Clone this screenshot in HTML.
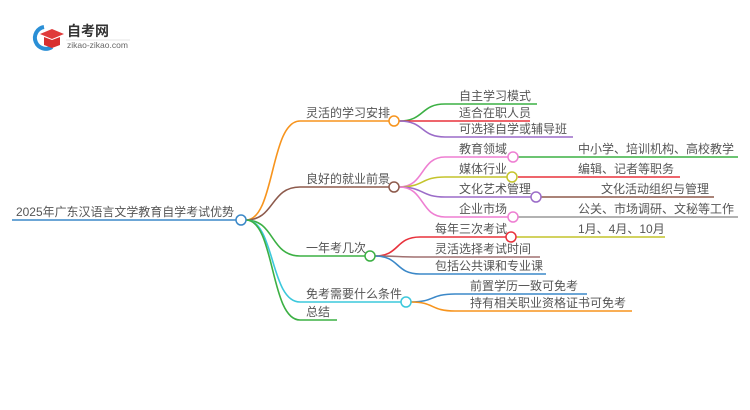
<!DOCTYPE html>
<html><head><meta charset="utf-8"><style>
html,body{margin:0;padding:0;background:#fff;width:750px;height:410px;overflow:hidden}
svg text{font-family:"Liberation Sans","Noto Sans CJK SC",sans-serif;font-size:12px;fill:#555}
</style></head><body>
<svg width="750" height="410" viewBox="0 0 750 410" xmlns="http://www.w3.org/2000/svg">
<!-- logo -->
<path d="M44 27 A11 11 0 1 0 52 47" fill="none" stroke="#2a8fd6" stroke-width="4"/>
<polygon points="40,34 52,29 64,34 52,39" fill="#e03a3a"/>
<path d="M44 37 L44 45 L52 48 L60 45 L60 37 L52 40 Z" fill="#d83030"/>
<text x="67" y="36" style="font-size:14px;font-weight:bold;fill:#333">自考网</text>
<line x1="66" y1="40" x2="130" y2="40" stroke="#ddd" stroke-width="0.7"/>
<text x="67" y="48" style="font-size:8.5px;fill:#666">zikao-zikao.com</text>

<g fill="none" stroke-width="1.6">
<line x1="12" y1="220" x2="236" y2="220" stroke="#3b88c8"/>
<path d="M246 220 C275 220 270 121 300 121 L389 121" stroke="#f7941d"/>
<path d="M246 220 C275 220 270 187 300 187 L389 187" stroke="#8d5a4c"/>
<path d="M246 220 C275 220 270 256 300 256 L365 256" stroke="#3cb044"/>
<path d="M246 220 C275 220 270 302 300 302 L401 302" stroke="#3cc8dc"/>
<path d="M246 220 C275 220 270 320 300 320 L337 320" stroke="#3cb044"/>
<path d="M399 121 C425 121 420 104 445 104 L537 104" stroke="#3cb044"/>
<path d="M399 121 L530 121" stroke="#e8323c"/>
<path d="M399 121 C425 121 420 137 445 137 L573 137" stroke="#9b6cc8"/>
<path d="M399 187 C425 187 420 157 445 157 L508 157" stroke="#ee7fd2"/>
<path d="M399 187 C425 187 420 177 445 177 L507 177" stroke="#c4c42c"/>
<path d="M399 187 C425 187 420 197 445 197 L531 197" stroke="#9b6cc8"/>
<path d="M399 187 C425 187 420 217 445 217 L508 217" stroke="#ee7fd2"/>
<line x1="518" y1="157" x2="738" y2="157" stroke="#3cb044"/>
<line x1="518" y1="177" x2="680" y2="177" stroke="#e8323c"/>
<line x1="541" y1="197" x2="714" y2="197" stroke="#8d5a4c"/>
<line x1="518" y1="217" x2="738" y2="217" stroke="#999"/>
<path d="M375 256 C400 256 395 237 420 237 L506 237" stroke="#e8323c"/>
<path d="M375 256 C400 256 395 257 420 257 L540 257" stroke="#a07070"/>
<path d="M375 256 C400 256 395 274 420 274 L546 274" stroke="#3b88c8"/>
<line x1="516" y1="237" x2="665" y2="237" stroke="#c4c42c"/>
<path d="M411 302 C435 302 430 294 455 294 L587 294" stroke="#3b88c8"/>
<path d="M411 302 C435 302 430 311 455 311 L632 311" stroke="#f7941d"/>
</g>
<g fill="#fff" stroke-width="1.5">
<circle cx="241" cy="220" r="5" stroke="#3b88c8"/>
<circle cx="394" cy="121" r="5" stroke="#f7941d"/>
<circle cx="394" cy="187" r="5" stroke="#8d5a4c"/>
<circle cx="370" cy="256" r="5" stroke="#3cb044"/>
<circle cx="406" cy="302" r="5" stroke="#3cc8dc"/>
<circle cx="513" cy="157" r="5" stroke="#ee7fd2"/>
<circle cx="512" cy="177" r="5" stroke="#c4c42c"/>
<circle cx="536" cy="197" r="5" stroke="#9b6cc8"/>
<circle cx="513" cy="217" r="5" stroke="#ee7fd2"/>
<circle cx="511" cy="237" r="5" stroke="#e8323c"/>
</g>
<text x="16" y="216" textLength="218" lengthAdjust="spacingAndGlyphs">2025年广东汉语言文学教育自学考试优势</text>
<text x="306" y="117">灵活的学习安排</text>
<text x="306" y="183">良好的就业前景</text>
<text x="306" y="252">一年考几次</text>
<text x="306" y="298">免考需要什么条件</text>
<text x="306" y="316">总结</text>
<text x="459" y="100">自主学习模式</text>
<text x="459" y="117">适合在职人员</text>
<text x="459" y="133">可选择自学或辅导班</text>
<text x="459" y="153">教育领域</text>
<text x="459" y="173">媒体行业</text>
<text x="459" y="193">文化艺术管理</text>
<text x="459" y="213">企业市场</text>
<text x="578" y="153">中小学、培训机构、高校教学</text>
<text x="578" y="173">编辑、记者等职务</text>
<text x="601" y="193">文化活动组织与管理</text>
<text x="578" y="213">公关、市场调研、文秘等工作</text>
<text x="435" y="233">每年三次考试</text>
<text x="578" y="233">1月、4月、10月</text>
<text x="435" y="253">灵活选择考试时间</text>
<text x="435" y="270">包括公共课和专业课</text>
<text x="470" y="290">前置学历一致可免考</text>
<text x="470" y="307">持有相关职业资格证书可免考</text>
</svg>
</body></html>
